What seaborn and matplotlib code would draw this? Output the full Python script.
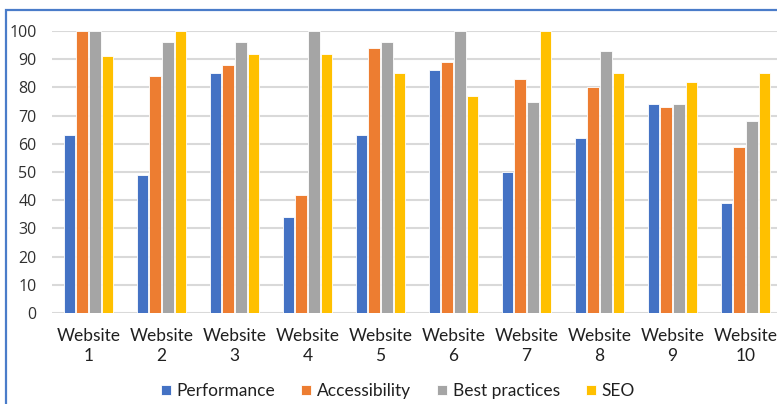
import matplotlib
matplotlib.use("Agg")
import matplotlib.pyplot as plt
from matplotlib.patches import Rectangle
import seaborn as sns
import pandas as pd

# Lighthouse scores per website
websites = ["Website\n1", "Website\n2", "Website\n3", "Website\n4", "Website\n5",
            "Website\n6", "Website\n7", "Website\n8", "Website\n9", "Website\n10"]
performance = [63, 49, 85, 34, 63, 86, 50, 62, 74, 39]
accessibility = [100, 84, 88, 42, 94, 89, 83, 80, 73, 59]
best_practices = [100, 96, 96, 100, 96, 100, 75, 93, 74, 68]
seo = [91, 100, 92, 92, 85, 77, 100, 85, 82, 85]

metrics = ["Performance", "Accessibility", "Best practices", "SEO"]
colors = ["#4472C4", "#ED7D31", "#A5A5A5", "#FFC000"]
yticks = [0, 10, 20, 30, 40, 50, 60, 70, 80, 90, 100]

rows = []
for name, vals in zip(metrics, [performance, accessibility, best_practices, seo]):
    for site, v in zip(websites, vals):
        rows.append({"site": site, "metric": name, "score": v})
df = pd.DataFrame(rows)

sns.set_theme(style="white")
plt.rcParams["font.family"] = ["Lato", "DejaVu Sans"]

fig = plt.figure(figsize=(7.77, 4.04), dpi=100)
ax = fig.add_axes([52 / 777, 91 / 404, 730 / 777, 282 / 404])

sns.barplot(data=df, x="site", y="score", hue="metric", order=websites,
            hue_order=metrics, palette=colors, width=0.7, gap=0.12,
            edgecolor="white", linewidth=0.6, saturation=1, ax=ax, zorder=3)

ax.set_ylim(0, 100)
ax.set_yticks(yticks)
ax.set_yticklabels([str(t) for t in yticks], fontsize=11.5, color="#303030",
                   family=["Open Sans", "DejaVu Sans"])
ax.tick_params(axis="y", length=0, pad=11)
ax.tick_params(axis="x", length=0, pad=11, labelsize=12.5, labelcolor="#202020")
for lbl in ax.get_xticklabels():
    lbl.set_linespacing(1.3)
ax.set_xlabel("")
ax.set_ylabel("")
ax.grid(axis="y", color="#D9D9D9", linewidth=1.5, zorder=0)
ax.set_axisbelow(True)
for s in ax.spines.values():
    s.set_visible(False)

handles, labels = ax.get_legend_handles_labels()
ax.legend_.remove()
fig.legend(handles, labels, loc="center", bbox_to_anchor=(398 / 777, 1 - 391 / 404),
           ncol=4, frameon=False, fontsize=12.5, handlelength=0.55, handleheight=0.55,
           handletextpad=0.35, columnspacing=1.5, labelcolor="#202020")

# chart frame
fig.patches.append(Rectangle((6 / 777, -0.05), 1.0, 1 - 10 / 404 + 0.05,
                             transform=fig.transFigure, fill=False,
                             edgecolor="#4A7CC9", linewidth=1.6))

fig.savefig("out.png", dpi=100)
